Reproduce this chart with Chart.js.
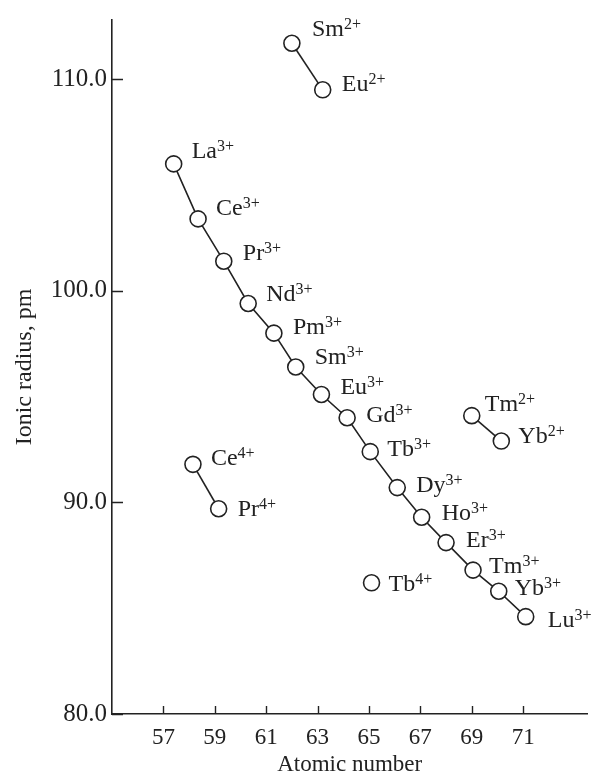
<!DOCTYPE html>
<html>
<head>
<meta charset="utf-8">
<script src="https://cdn.jsdelivr.net/npm/chart.js@4.4.0/dist/chart.umd.min.js"></script>
<style>
  html, body { margin: 0; padding: 0; background: #fff; }
</style>
</head>
<body>
<canvas id="radii" width="597" height="784"></canvas>
<script>
// Lanthanide ionic radii (pm) plotted against atomic number

// trivalent series La3+ ... Lu3+
const ln3Ions = ["La", "Ce", "Pr", "Nd", "Pm", "Sm", "Eu", "Gd", "Tb", "Dy", "Ho", "Er", "Tm", "Yb", "Lu"];
const ln3Z = [57.4, 58.35, 59.35, 60.3, 61.3, 62.15, 63.15, 64.15, 65.05, 66.1, 67.05, 68.0, 69.05, 70.05, 71.1];
const ln3Radius = [106.0, 103.4, 101.4, 99.4, 98.0, 96.4, 95.1, 94.0, 92.4, 90.7, 89.3, 88.1, 86.8, 85.8, 84.6];

// divalent pairs
const ln2aIons = ["Sm", "Eu"];
const ln2aZ = [62.0, 63.2];
const ln2aRadius = [111.7, 109.5];

const ln2bIons = ["Tm", "Yb"];
const ln2bZ = [69.0, 70.15];
const ln2bRadius = [94.1, 92.9];

// tetravalent
const ln4aIons = ["Ce", "Pr"];
const ln4aZ = [58.15, 59.15];
const ln4aRadius = [91.8, 89.7];

const ln4bIons = ["Tb"];
const ln4bZ = [65.1];
const ln4bRadius = [86.2];

// axis ticks
const xTicks = [57, 59, 61, 63, 65, 67, 69, 71];
const yTicks = [80, 90, 100, 110];

// label placement relative to the marker centre: [dx, dy of baseline]
const ln3Nudge = [[18, -6], [18, -4], [19, -1], [18, -3], [19, 1], [19, -3], [19, -1],
                  [19, 4], [17, 4], [19, 4], [20, 3], [20, 4], [16, 3], [16, 4], [22, 10]];
const ln2aNudge = [[20, -7], [19, 1]];
const ln2bNudge = [[13, -5], [17, 2]];
const ln4aNudge = [[18, 1], [19, 7]];
const ln4bNudge = [[17, 8]];

const ink = "#222";
const serif = "'Liberation Serif', 'DejaVu Serif', serif";

function points(zs, rs) {
  return zs.map((z, i) => ({ x: z, y: rs[i] }));
}

function series(zs, rs, ions, charge, nudge, joined) {
  return {
    data: points(zs, rs),
    ions: ions,
    charge: charge,
    nudge: nudge,
    showLine: joined,
    borderColor: ink,
    borderWidth: 1.6,
    pointRadius: 8,
    pointHoverRadius: 8,
    pointBackgroundColor: "#fff",
    pointBorderColor: ink,
    pointBorderWidth: 1.6
  };
}

// ticks drawn on the inside of both axes
const innerTicks = {
  id: "innerTicks",
  afterDraw(chart) {
    const { ctx, chartArea, scales } = chart;
    ctx.save();
    ctx.strokeStyle = ink;
    ctx.lineWidth = 1.4;
    ctx.beginPath();
    yTicks.forEach((v) => {
      const y = Math.round(scales.y.getPixelForValue(v)) + 0.5;
      ctx.moveTo(chartArea.left, y);
      ctx.lineTo(chartArea.left + 11, y);
    });
    xTicks.forEach((v) => {
      const x = Math.round(scales.x.getPixelForValue(v)) + 0.5;
      ctx.moveTo(x, chartArea.bottom);
      ctx.lineTo(x, chartArea.bottom - 8);
    });
    ctx.stroke();
    ctx.restore();
  }
};

// ion symbol with its charge as a superscript
const ionLabels = {
  id: "ionLabels",
  afterDatasetsDraw(chart) {
    const ctx = chart.ctx;
    ctx.save();
    ctx.fillStyle = ink;
    ctx.textBaseline = "alphabetic";
    ctx.textAlign = "left";
    chart.data.datasets.forEach((ds, di) => {
      const meta = chart.getDatasetMeta(di);
      meta.data.forEach((pt, i) => {
        const [dx, dy] = ds.nudge[i];
        const x = pt.x + dx;
        const y = pt.y + dy;
        ctx.font = "24px " + serif;
        ctx.fillText(ds.ions[i], x, y);
        const w = ctx.measureText(ds.ions[i]).width;
        ctx.font = "16px " + serif;
        ctx.fillText(ds.charge, x + w, y - 7);
      });
    });
    ctx.restore();
  }
};

new Chart(document.getElementById("radii"), {
  type: "scatter",
  data: {
    datasets: [
      series(ln3Z, ln3Radius, ln3Ions, "3+", ln3Nudge, true),
      series(ln2aZ, ln2aRadius, ln2aIons, "2+", ln2aNudge, true),
      series(ln2bZ, ln2bRadius, ln2bIons, "2+", ln2bNudge, true),
      series(ln4aZ, ln4aRadius, ln4aIons, "4+", ln4aNudge, true),
      series(ln4bZ, ln4bRadius, ln4bIons, "4+", ln4bNudge, false)
    ]
  },
  options: {
    responsive: false,
    animation: false,
    layout: { padding: { top: 17, right: 5, left: 0, bottom: 0 } },
    plugins: {
      legend: { display: false },
      tooltip: { enabled: false }
    },
    scales: {
      x: {
        type: "linear",
        min: 55,
        max: 73.5,
        afterBuildTicks: (s) => { s.ticks = xTicks.map((v) => ({ value: v })); },
        afterFit: (s) => { s.height = 70; },
        grid: { display: false, drawTicks: false },
        border: { display: true, color: ink, width: 1.6 },
        ticks: {
          padding: 10,
          color: ink,
          font: { family: serif, size: 23 },
          maxRotation: 0
        },
        title: {
          display: true,
          text: "Atomic number",
          color: ink,
          font: { family: serif, size: 23 },
          padding: { top: 0, bottom: 5 }
        }
      },
      y: {
        type: "linear",
        min: 80,
        max: 112.8,
        afterBuildTicks: (s) => { s.ticks = yTicks.map((v) => ({ value: v })); },
        afterFit: (s) => { s.width = 112; },
        grid: { display: false, drawTicks: false },
        border: { display: true, color: ink, width: 1.6 },
        ticks: {
          padding: 5,
          color: ink,
          font: { family: serif, size: 25 },
          callback: (v) => v.toFixed(1)
        },
        title: {
          display: true,
          text: "Ionic radius, pm",
          color: ink,
          font: { family: serif, size: 24 },
          padding: { top: 10, bottom: 0 }
        }
      }
    }
  },
  plugins: [innerTicks, ionLabels]
});
</script>
</body>
</html>
